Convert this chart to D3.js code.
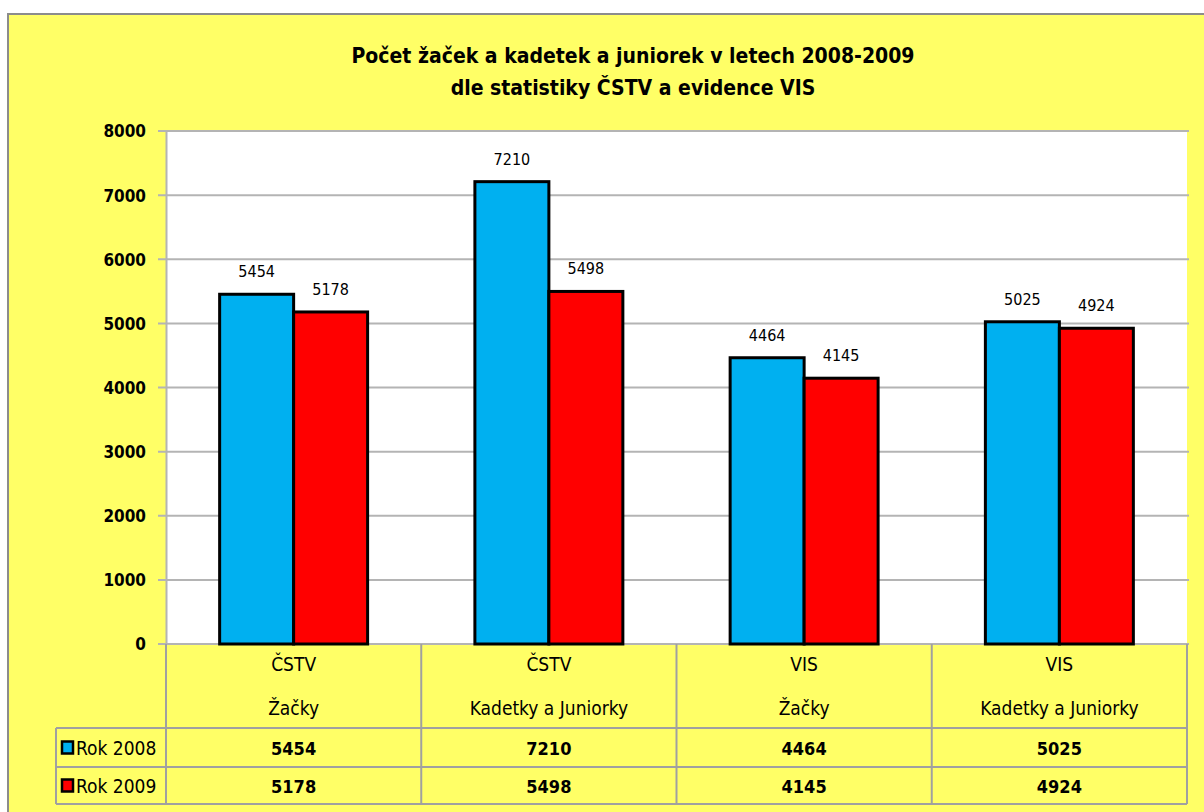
<!DOCTYPE html>
<html>
<head>
<meta charset="utf-8">
<script src="https://cdn.jsdelivr.net/npm/d3@7"></script>
<style>
  body { margin: 0; background: #ffffff; }
  svg text { font-family: "Liberation Sans Narrow", "DejaVu Sans Condensed", "Liberation Sans", sans-serif; }
</style>
</head>
<body>
<div id="chart"></div>
<script>
// ---------------------------------------------
// ---------        Data             -----------
// ---------------------------------------------
const groupNames = ["ČSTV", "ČSTV", "VIS", "VIS"];
const categoryNames = ["Žačky", "Kadetky a Juniorky", "Žačky", "Kadetky a Juniorky"];
const seriesNames = ["Rok 2008", "Rok 2009"];
const values2008 = [5454, 7210, 4464, 5025];
const values2009 = [5178, 5498, 4145, 4924];
const yTicks = [0, 1000, 2000, 3000, 4000, 5000, 6000, 7000, 8000];
const seriesColors = ["#00B0F0", "#FF0000"];
const titleLines = ["Počet žaček a kadetek a juniorek v letech 2008-2009", "dle statistiky ČSTV a evidence VIS"];

const seriesValues = [values2008, values2009];

// ---------------------------------------------
// ---------    Basic Chart Layout      --------
// ---------------------------------------------
const width = 1204, height = 812;
const plot = { left: 166, right: 1187, top: 131, bottom: 644 };
const tableRows = { header: 728, row1: 767, row2: 804 };
const legendLeft = 56;
const gridColor = "#b4b4b4";
const tableLine = "#a0a0a0";

var svg = d3.select("#chart")
  .append("svg")
    .attr("width", width)
    .attr("height", height);

// yellow background with grey frame
svg.append("rect")
  .attr("x", 8).attr("y", 14)
  .attr("width", width).attr("height", height)
  .attr("fill", "#FFFF66")
  .attr("stroke", "#8c8c8c")
  .attr("stroke-width", 2);

// title
svg.append("g")
  .selectAll("text")
  .data(titleLines)
  .join("text")
    .attr("x", 633)
    .attr("y", (d, i) => 63 + i * 32)
    .attr("text-anchor", "middle")
    .attr("font-size", 21)
    .attr("font-weight", "bold")
    .attr("fill", "#000")
    .text(d => d);

// plot area
svg.append("rect")
  .attr("x", plot.left).attr("y", plot.top)
  .attr("width", plot.right - plot.left)
  .attr("height", plot.bottom - plot.top)
  .attr("fill", "#ffffff");

var x = d3.scaleBand()
  .domain(d3.range(categoryNames.length))
  .range([plot.left, plot.right]);

var xSub = d3.scaleBand()
  .domain(seriesNames)
  .range([0, x.bandwidth()])
  .paddingInner(0)
  .paddingOuter(0.725);

var y = d3.scaleLinear().domain([0, 8000]).range([plot.bottom, plot.top]);

// gridlines
svg.append("g")
  .selectAll("line")
  .data(yTicks)
  .join("line")
    .attr("x1", plot.left - 8)
    .attr("x2", plot.right + 2)
    .attr("y1", d => y(d))
    .attr("y2", d => y(d))
    .attr("stroke", gridColor)
    .attr("stroke-width", 2);

// Y axis
var yAxis = svg.append("g")
  .attr("transform", "translate(" + plot.left + ",0)")
  .call(d3.axisLeft(y).tickValues(yTicks).tickSize(0).tickPadding(20).tickFormat(d3.format("d")));

yAxis.select(".domain").attr("stroke", gridColor).attr("stroke-width", 2);
yAxis.selectAll(".tick text")
  .attr("font-size", 17)
  .attr("font-weight", "bold")
  .attr("fill", "#000")
  .attr("dy", "0.35em");

// ---------------------------------------------
// ---------       Bars                 --------
// ---------------------------------------------
const barData = [];
categoryNames.forEach((c, i) => {
  seriesNames.forEach((s, j) => {
    barData.push({ cat: i, series: s, idx: j, value: seriesValues[j][i] });
  });
});

svg.append("g")
  .selectAll("rect")
  .data(barData)
  .join("rect")
    .attr("x", d => x(d.cat) + xSub(d.series))
    .attr("y", d => y(d.value))
    .attr("width", xSub.bandwidth())
    .attr("height", d => y(0) - y(d.value))
    .attr("fill", d => seriesColors[d.idx])
    .attr("stroke", "#000")
    .attr("stroke-width", 3);

// data labels
svg.append("g")
  .selectAll("text")
  .data(barData)
  .join("text")
    .attr("x", d => x(d.cat) + xSub(d.series) + xSub.bandwidth() / 2)
    .attr("y", d => y(d.value) - 17)
    .attr("text-anchor", "middle")
    .attr("font-size", 16)
    .attr("fill", "#000")
    .text(d => d.value);

// ---------------------------------------------
// ---------       Data table           --------
// ---------------------------------------------
var table = svg.append("g");

// vertical lines
var boundaries = d3.range(categoryNames.length + 1).map(i => i < categoryNames.length ? x(i) : plot.right);
table.selectAll(".vline")
  .data(boundaries)
  .join("line")
    .attr("class", "vline")
    .attr("x1", d => d).attr("x2", d => d)
    .attr("y1", plot.bottom).attr("y2", tableRows.row2)
    .attr("stroke", tableLine).attr("stroke-width", 2);

table.append("line")
  .attr("x1", legendLeft).attr("x2", legendLeft)
  .attr("y1", tableRows.header).attr("y2", tableRows.row2)
  .attr("stroke", tableLine).attr("stroke-width", 2);

table.selectAll(".hline")
  .data([tableRows.header, tableRows.row1, tableRows.row2])
  .join("line")
    .attr("class", "hline")
    .attr("x1", legendLeft).attr("x2", plot.right)
    .attr("y1", d => d).attr("y2", d => d)
    .attr("stroke", tableLine).attr("stroke-width", 2);

// header text
table.selectAll(".group")
  .data(groupNames)
  .join("text")
    .attr("class", "group")
    .attr("x", (d, i) => x(i) + x.bandwidth() / 2)
    .attr("y", 671)
    .attr("text-anchor", "middle")
    .attr("font-size", 19)
    .text(d => d);

table.selectAll(".cat")
  .data(categoryNames)
  .join("text")
    .attr("class", "cat")
    .attr("x", (d, i) => x(i) + x.bandwidth() / 2)
    .attr("y", 715)
    .attr("text-anchor", "middle")
    .attr("font-size", 19)
    .text(d => d);

// value rows
const rowTops = [tableRows.header, tableRows.row1];
seriesNames.forEach((s, j) => {
  var rowMid = (rowTops[j] + (j === 0 ? tableRows.row1 : tableRows.row2)) / 2;

  table.append("rect")
    .attr("x", 62).attr("y", rowMid - 6)
    .attr("width", 11).attr("height", 12)
    .attr("fill", seriesColors[j])
    .attr("stroke", "#000")
    .attr("stroke-width", 2.5);

  table.append("text")
    .attr("x", 76).attr("y", rowMid + 7)
    .attr("font-size", 19)
    .text(s);

  table.selectAll(".val" + j)
    .data(seriesValues[j])
    .join("text")
      .attr("class", "val" + j)
      .attr("x", (d, i) => x(i) + x.bandwidth() / 2)
      .attr("y", rowMid + 7)
      .attr("text-anchor", "middle")
      .attr("font-size", 18)
      .attr("font-weight", "bold")
      .text(d => d);
});
</script>
</body>
</html>
